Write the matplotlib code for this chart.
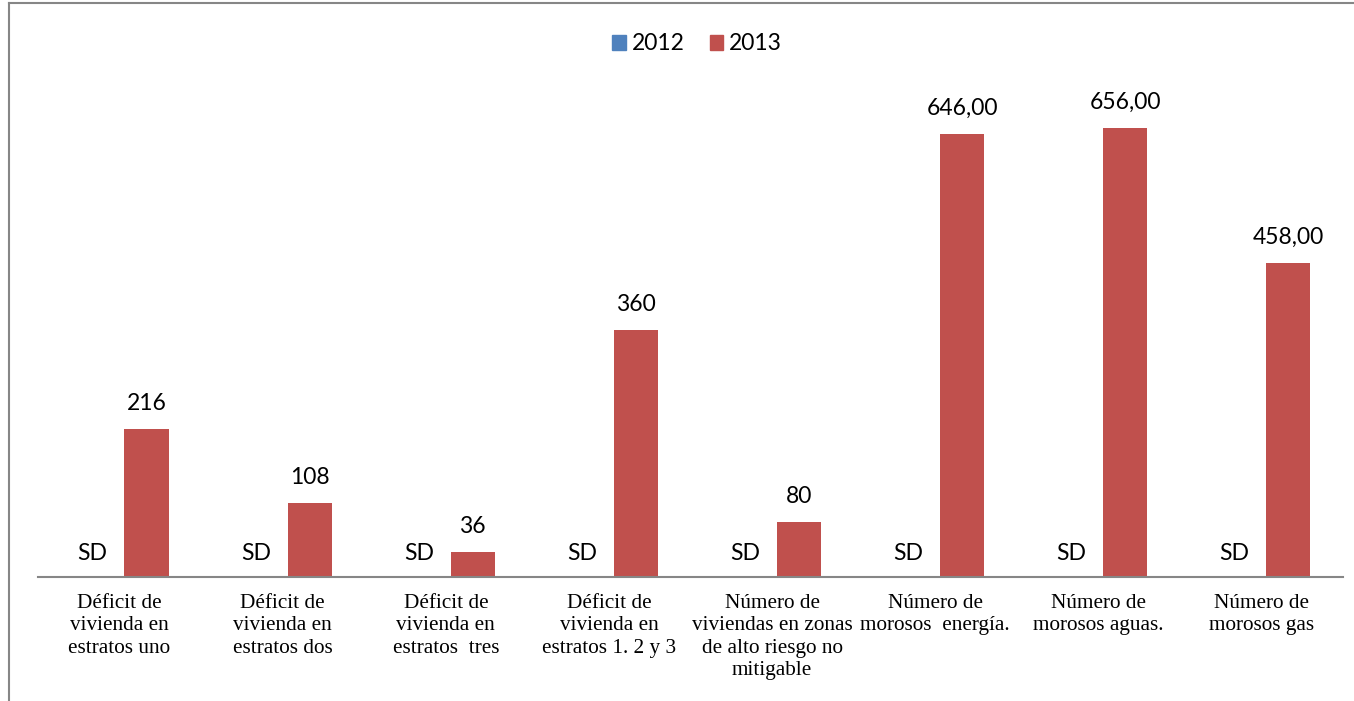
import matplotlib.pyplot as plt
import numpy as np
from matplotlib.lines import Line2D
from matplotlib.patches import Patch

# data
categories = ['Déficit de\nvivienda en\nestratos uno',
              'Déficit de\nvivienda en\nestratos dos',
              'Déficit de\nvivienda en\nestratos  tres',
              'Déficit de\nvivienda en\nestratos 1. 2 y 3',
              'Número de\nviviendas en zonas\nde alto riesgo no\nmitigable',
              'Número de\nmorosos  energía.',
              'Número de\nmorosos aguas.',
              'Número de\nmorosos gas']
values_2012 = [0, 0, 0, 0, 0, 0, 0, 0]
labels_2012 = ['SD'] * 8
values_2013 = [216, 108, 36, 360, 80, 646, 656, 458]
labels_2013 = ['216', '108', '36', '360', '80', '646,00', '656,00', '458,00']

blue = '#4F81BD'
red = '#C0504D'
label_font = 'Lato'
label_size = 16.5

fig = plt.figure(figsize=(13.54, 7.01), dpi=100)
ax = fig.add_axes([38 / 1354, 1 - 577 / 701, 1305 / 1354, 517 / 701])

x = np.arange(len(categories))
w = 0.27
off = 0.165
b12 = ax.bar(x - off, values_2012, w, color=blue)
b13 = ax.bar(x + off, values_2013, w, color=red)

for xi, lab in zip(x, labels_2012):
    ax.text(xi - off, 25, lab, ha='center', va='baseline', fontsize=label_size, family=label_font)
for xi, v, lab in zip(x, values_2013, labels_2013):
    ax.text(xi + off, v + 28, lab, ha='center', va='baseline', fontsize=label_size, family=label_font)

ax.set_xlim(-0.5, len(categories) - 0.5)
ax.set_ylim(0, 517 / 0.685)
ax.set_yticks([])
ax.set_xticks(x)
ax.set_xticklabels(categories, family='Liberation Serif', fontsize=15.3, linespacing=1.25)
ax.tick_params(axis='x', length=0, pad=12)
for s in ['top', 'right', 'left']:
    ax.spines[s].set_visible(False)
ax.spines['bottom'].set_color('#868686')
ax.spines['bottom'].set_linewidth(1.5)

handles = [Patch(color=blue, label='2012'), Patch(color=red, label='2013')]
leg = fig.legend(handles=handles, loc='center', bbox_to_anchor=(697 / 1354, 1 - 44 / 701),
                 ncol=2, frameon=False, handlelength=0.6, handleheight=0.6,
                 handletextpad=0.25, columnspacing=1.1,
                 prop={'family': label_font, 'size': label_size})

# outer chart border
fig.add_artist(Line2D([9 / 1354, 9 / 1354], [0, 1 - 3 / 701], color='#868686', lw=1.5))
fig.add_artist(Line2D([9 / 1354, 1], [1 - 3 / 701, 1 - 3 / 701], color='#868686', lw=1.5))

fig.savefig('out.png', dpi=100)
